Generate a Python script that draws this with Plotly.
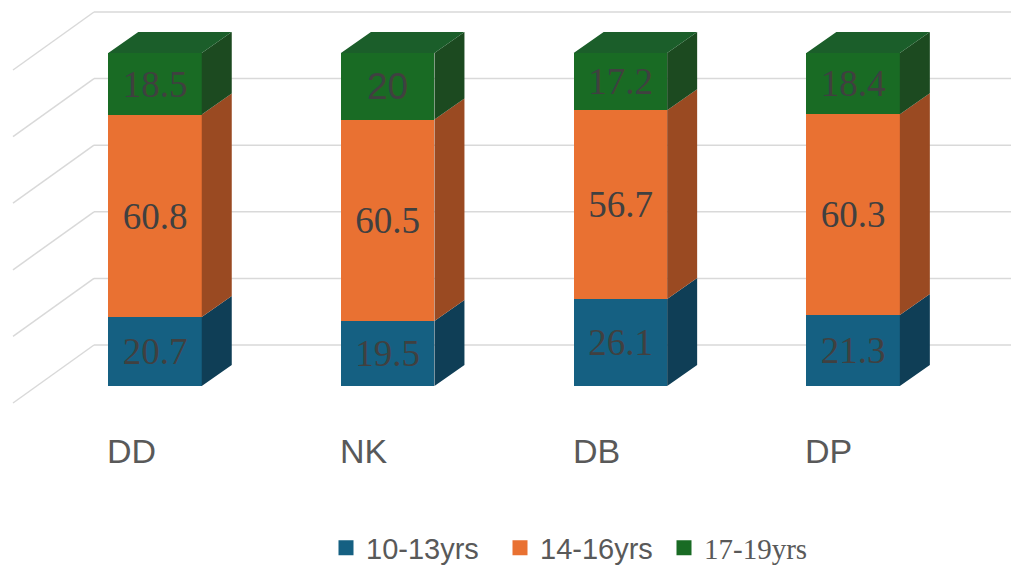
import plotly.graph_objects as go

# ---------------- data ----------------
categories = ["DD", "NK", "DB", "DP"]
series_names = ["10-13yrs", "14-16yrs", "17-19yrs"]
age_10_13 = [20.7, 19.5, 26.1, 21.3]
age_14_16 = [60.8, 60.5, 56.7, 60.3]
age_17_19 = [18.5, 20, 17.2, 18.4]
grid_values = [0, 20, 40, 60, 80, 100]

series_values = [age_10_13, age_14_16, age_17_19]

# ---------------- styles ----------------
front_colors = ["#156082", "#E97132", "#196B24"]
side_colors = ["#0f3e56", "#9a4a22", "#1c4a20"]
top_colors = ["#12506e", "#c35f2a", "#1b5e2a"]
label_fonts = [
    ["Liberation Serif"] * 4,
    ["Liberation Serif"] * 4,
    ["Liberation Serif", "Liberation Sans", "Liberation Serif", "Liberation Serif"],
]
legend_fonts = ["Liberation Sans", "Liberation Sans", "Liberation Serif"]
legend_x_px = [326, 500, 664]

# ---------------- geometry (pixel calibration) ----------------
W, H = 1011, 565
PX_X = 232.7      # pixels per category step
X0_PX = 155.0     # pixel of first category centre (front plane)
PX_Y = 3.33       # pixels per value unit
Y0_PX = 386.0     # pixel of value 0 on the front plane

BW = 93.5 / PX_X          # bar width (x units)
DX = 30.0 / PX_X          # bar depth offset, x
DY = 21.0 / PX_Y          # bar depth offset, y
WALL_DY = 41.0 / PX_Y     # back wall zero relative to front zero
WALL_LEFT = (94.0 - X0_PX) / PX_X
FLOOR_LEFT = (13.0 - X0_PX) / PX_X
FLOOR_DY = 58.0 / PX_Y

x_range = [(0 - X0_PX) / PX_X, (W - X0_PX) / PX_X]
y_range = [-(H - Y0_PX) / PX_Y, Y0_PX / PX_Y]

xs = list(range(len(categories)))
legend_ids = ["legend", "legend2", "legend3"]

fig = go.Figure()

# front faces (stacked bars)
for s, vals in enumerate(series_values):
    fig.add_trace(go.Bar(
        x=xs, y=vals, name=series_names[s], width=BW,
        showlegend=False,
        marker=dict(color=front_colors[s], line=dict(width=0)),
        text=[f"{v:g}" for v in vals],
        textposition="inside", insidetextanchor="middle", textangle=0,
        textfont=dict(family=label_fonts[s], size=37, color="#404040"),
        hoverinfo="skip",
    ))

# side faces computed from the stacked values
cum = [0.0] * len(categories)
for s, vals in enumerate(series_values):
    px_, py_ = [], []
    for i, v in enumerate(vals):
        b = cum[i]
        t = b + v
        xr = xs[i] + BW / 2
        px_ += [xr, xr + DX, xr + DX, xr, xr, None]
        py_ += [b, b + DY, t + DY, t, b, None]
    fig.add_trace(go.Scatter(
        x=px_, y=py_, mode="lines", fill="toself", fillcolor=side_colors[s],
        line=dict(width=0), showlegend=False, hoverinfo="skip",
    ))
    cum = [cum[i] + vals[i] for i in range(len(vals))]

# top faces of the last series
tx, ty = [], []
for i, T in enumerate(cum):
    xl = xs[i] - BW / 2
    xr = xs[i] + BW / 2
    tx += [xl, xl + DX, xr + DX, xr, xl, None]
    ty += [T, T + DY, T + DY, T, T, None]
fig.add_trace(go.Scatter(
    x=tx, y=ty, mode="lines", fill="toself", fillcolor=top_colors[2],
    line=dict(width=0), showlegend=False, hoverinfo="skip",
))

# legend entries (square swatches)
for s, name in enumerate(series_names):
    fig.add_trace(go.Scatter(
        x=[None], y=[None], mode="markers", name=name, legend=legend_ids[s],
        marker=dict(symbol="square", size=15, color=front_colors[s]),
        hoverinfo="skip",
    ))

# gridlines on back wall and side wall
shapes = []
for g in grid_values:
    y = g + WALL_DY
    shapes.append(dict(type="line", xref="x", yref="y", layer="below",
                       x0=WALL_LEFT, y0=y, x1=x_range[1] + 0.5, y1=y,
                       line=dict(color="#d9d9d9", width=1.5)))
    shapes.append(dict(type="line", xref="x", yref="y", layer="below",
                       x0=WALL_LEFT, y0=y, x1=FLOOR_LEFT, y1=y - FLOOR_DY,
                       line=dict(color="#d9d9d9", width=1.5)))

# category labels
annotations = []
for i, c in enumerate(categories):
    annotations.append(dict(
        x=xs[i] - BW / 2 - 3.0 / PX_X, y=(Y0_PX - 451.0) / PX_Y,
        xref="x", yref="y",
        text=c, showarrow=False, xanchor="left", yanchor="middle",
        font=dict(family="Liberation Sans", size=34, color="#595959"),
    ))

legend_layout = {}
for s, lid in enumerate(legend_ids):
    legend_layout[lid] = dict(
        orientation="h", x=legend_x_px[s] / W, xanchor="left",
        y=1 - 548 / H, yanchor="middle",
        font=dict(family=legend_fonts[s], size=29, color="#595959"),
        bgcolor="rgba(0,0,0,0)",
    )

fig.update_layout(
    width=W, height=H,
    margin=dict(l=0, r=0, t=0, b=0, autoexpand=False),
    paper_bgcolor="white", plot_bgcolor="white",
    barmode="stack", bargap=0,
    shapes=shapes, annotations=annotations,
    xaxis=dict(range=x_range, showgrid=False, zeroline=False,
               showticklabels=False, fixedrange=True),
    yaxis=dict(range=y_range, showgrid=False, zeroline=False,
               showticklabels=False, fixedrange=True),
    showlegend=True,
    **legend_layout,
)

fig.write_html("out.html")
